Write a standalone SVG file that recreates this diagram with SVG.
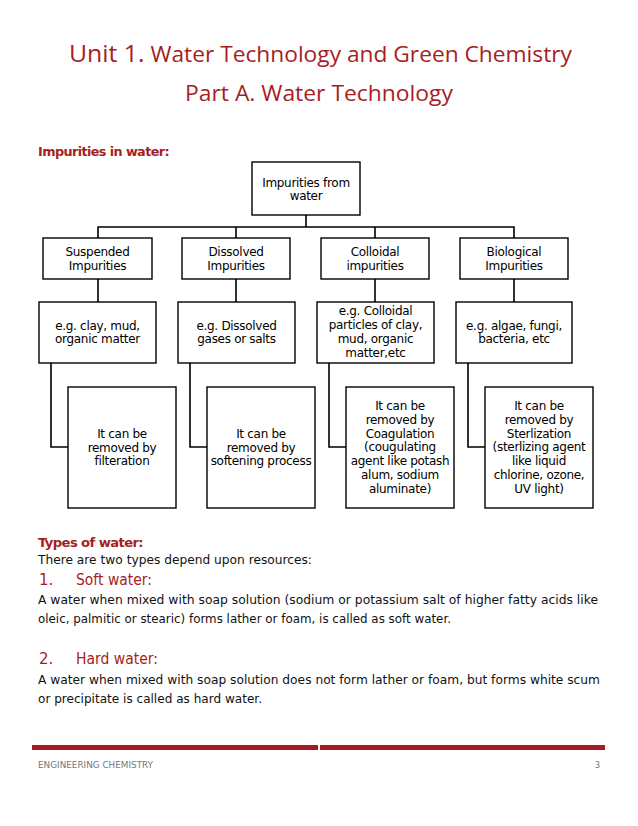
<svg xmlns="http://www.w3.org/2000/svg" width="638" height="826" viewBox="0 0 638 826">
<style>
.red{fill:#A61E22}
.title{font-family:"Open Sans","DejaVu Sans",sans-serif;font-size:22px}
.h{font-family:"DejaVu Sans",sans-serif;font-weight:bold;font-size:13px;letter-spacing:-0.6px}
.body{font-family:"DejaVu Sans",sans-serif;font-size:11.5px;fill:#111}
.sub{font-family:"DejaVu Sans",sans-serif;font-size:15px}
.box{fill:#fff;stroke:#000;stroke-width:1.4}
.t{font-family:"DejaVu Sans",sans-serif;font-size:12px;fill:#000;text-anchor:middle;letter-spacing:-0.3px}
.conn{fill:none;stroke:#000;stroke-width:1.6}
.foot{font-family:"DejaVu Sans",sans-serif;font-size:8px;fill:#777}
</style>
<rect width="638" height="826" fill="#fff"/>

<text class="title red" x="69" y="62" textLength="503" lengthAdjust="spacingAndGlyphs"><tspan font-size="24">Unit 1.</tspan> Water Technology and Green Chemistry</text>
<text class="title red" x="185" y="101" textLength="268" lengthAdjust="spacingAndGlyphs">Part A. Water Technology</text>
<text class="h red" x="38" y="156" textLength="131" lengthAdjust="spacingAndGlyphs">Impurities in water:</text>

<g id="connectors">
<path class="conn" d="M306 215V227M98 238V227H514V238M236 227V238M375 227V238"/>
<path class="conn" d="M98 279V302M236 279V302M375 279V302M514 279V302"/>
<path class="conn" d="M51 363V447H68M190 363V447H207M329 363V447H346M468 363V447H485"/>
</g>

<g id="root"><rect class="box" x="252" y="162" width="108" height="53"/>
<text class="t" x="306" y="187">Impurities from</text><text class="t" x="306" y="200">water</text></g>

<g id="suspended"><rect class="box" x="43" y="238" width="109" height="41"/>
<text class="t" x="97.5" y="256">Suspended</text><text class="t" x="97.5" y="270">Impurities</text></g>
<g id="dissolved"><rect class="box" x="182" y="238" width="108" height="41"/>
<text class="t" x="236" y="256">Dissolved</text><text class="t" x="236" y="270">Impurities</text></g>
<g id="colloidal"><rect class="box" x="321" y="238" width="108" height="41"/>
<text class="t" x="375" y="256">Colloidal</text><text class="t" x="375" y="270">impurities</text></g>
<g id="biological"><rect class="box" x="460" y="238" width="108" height="41"/>
<text class="t" x="514" y="256">Biological</text><text class="t" x="514" y="270">Impurities</text></g>

<g id="eg-suspended"><rect class="box" x="39" y="302" width="117" height="61"/>
<text class="t" x="97.5" y="330">e.g. clay, mud,</text><text class="t" x="97.5" y="343">organic matter</text></g>
<g id="eg-dissolved"><rect class="box" x="178" y="302" width="117" height="61"/>
<text class="t" x="236.5" y="330">e.g. Dissolved</text><text class="t" x="236.5" y="343">gases or salts</text></g>
<g id="eg-colloidal"><rect class="box" x="317" y="302" width="117" height="61"/>
<text class="t" x="375.5" y="315">e.g. Colloidal</text><text class="t" x="375.5" y="329">particles of clay,</text><text class="t" x="375.5" y="343">mud, organic</text><text class="t" x="375.5" y="357">matter,etc</text></g>
<g id="eg-biological"><rect class="box" x="456" y="302" width="116" height="61"/>
<text class="t" x="514" y="330">e.g. algae, fungi,</text><text class="t" x="514" y="343">bacteria, etc</text></g>

<g id="rm-suspended"><rect class="box" x="68" y="387" width="108" height="121"/>
<text class="t" x="122" y="438">It can be</text><text class="t" x="122" y="451.5">removed by</text><text class="t" x="122" y="465">filteration</text></g>
<g id="rm-dissolved"><rect class="box" x="207" y="387" width="108" height="121"/>
<text class="t" x="261" y="438">It can be</text><text class="t" x="261" y="451.5">removed by</text><text class="t" x="261" y="465">softening process</text></g>
<g id="rm-colloidal"><rect class="box" x="346" y="387" width="108" height="121"/>
<text class="t" x="400" y="410">It can be</text><text class="t" x="400" y="424">removed by</text><text class="t" x="400" y="437.5">Coagulation</text><text class="t" x="400" y="451">(cougulating</text><text class="t" x="400" y="465">agent like potash</text><text class="t" x="400" y="479">alum, sodium</text><text class="t" x="400" y="493">aluminate)</text></g>
<g id="rm-biological"><rect class="box" x="485" y="387" width="108" height="121"/>
<text class="t" x="539" y="410">It can be</text><text class="t" x="539" y="424">removed by</text><text class="t" x="539" y="437.5">Sterlization</text><text class="t" x="539" y="451">(sterlizing agent</text><text class="t" x="539" y="465">like liquid</text><text class="t" x="539" y="479">chlorine, ozone,</text><text class="t" x="539" y="493">UV light)</text></g>

<text class="h red" x="38" y="547" textLength="105" lengthAdjust="spacingAndGlyphs">Types of water:</text>
<text class="body" x="38" y="564" textLength="274" lengthAdjust="spacingAndGlyphs">There are two types depend upon resources:</text>
<text class="sub red" x="39" y="585">1.</text>
<text class="sub red" x="76" y="585" textLength="76" lengthAdjust="spacingAndGlyphs">Soft water:</text>
<text class="body" x="38" y="604" textLength="560" lengthAdjust="spacingAndGlyphs">A water when mixed with soap solution (sodium or potassium salt of higher fatty acids like</text>
<text class="body" x="38" y="623" textLength="413" lengthAdjust="spacingAndGlyphs">oleic, palmitic or stearic) forms lather or foam, is called as soft water.</text>
<text class="sub red" x="39" y="664">2.</text>
<text class="sub red" x="76" y="664" textLength="82" lengthAdjust="spacingAndGlyphs">Hard water:</text>
<text class="body" x="38" y="684" textLength="562" lengthAdjust="spacingAndGlyphs">A water when mixed with soap solution does not form lather or foam, but forms white scum</text>
<text class="body" x="38" y="703" textLength="224" lengthAdjust="spacingAndGlyphs">or precipitate is called as hard water.</text>

<rect x="32" y="745" width="286" height="5" fill="#A61B1F"/>
<rect x="320" y="745" width="285" height="5" fill="#A61B1F"/>
<text class="foot" x="38" y="768" textLength="115" lengthAdjust="spacingAndGlyphs">ENGINEERING CHEMISTRY</text>
<text class="foot" x="600" y="768" text-anchor="end">3</text>
</svg>
